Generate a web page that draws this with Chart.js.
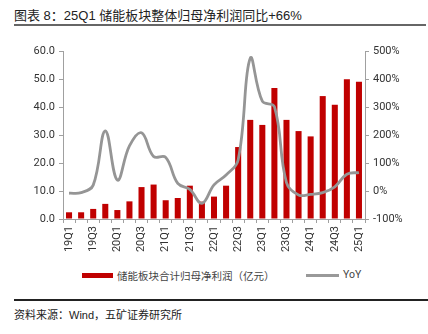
<!DOCTYPE html>
<html>
<head>
<meta charset="utf-8">
<script src="https://cdn.jsdelivr.net/npm/chart.js@4/dist/chart.umd.min.js"></script>
<style>
  body { margin: 0; background: #fff; }
  #wrap { position: relative; width: 428px; height: 334px; overflow: hidden;
          font-family: "Liberation Sans", "Noto Sans CJK SC", sans-serif; color: #222; }
  #titulo { position: absolute; left: 14px; top: 5px; font-size: 13px; white-space: nowrap; }
  #linhaTopo { position: absolute; left: 14px; top: 24px; width: 412px; height: 2px; background: #666; }
  #grafico { position: absolute; left: 0; top: 0; }
  .leg { position: absolute; top: 268px; font-size: 10.5px; color: #444; white-space: nowrap; }
  #legBarra { position: absolute; left: 82px; top: 273px; width: 31px; height: 5px; background: #c00000; }
  #legLinha { position: absolute; left: 306px; top: 274px; width: 33px; height: 3px; background: #999; }
  #linhaBase { position: absolute; left: 14px; top: 299px; width: 414px; height: 1.5px; background: #222; }
  #fonte { position: absolute; left: 14px; top: 306px; font-size: 11px; white-space: nowrap; }
</style>
</head>
<body>
<div id="wrap">
  <div id="titulo">图表 8：25Q1 储能板块整体归母净利润同比+66%</div>
  <div id="linhaTopo"></div>
  <canvas id="grafico" width="428" height="265"></canvas>
  <div id="legBarra"></div>
  <div class="leg" style="left:117px">储能板块合计归母净利润（亿元）</div>
  <div id="legLinha"></div>
  <div class="leg" style="left:343px; font-family: Roboto, sans-serif;">YoY</div>
  <div id="linhaBase"></div>
  <div id="fonte">资料来源：Wind，五矿证券研究所</div>
</div>
<script>
// Dados
const trimestres = ['19Q1','19Q2','19Q3','19Q4','20Q1','20Q2','20Q3','20Q4',
                    '21Q1','21Q2','21Q3','21Q4','22Q1','22Q2','22Q3','22Q4',
                    '23Q1','23Q2','23Q3','23Q4','24Q1','24Q2','24Q3','24Q4','25Q1'];
const lucroLiquido = [2.4, 2.4, 3.6, 5.4, 3.2, 6.3, 11.4, 12.3,
                      6.7, 7.5, 11.9, 6.2, 8.0, 11.9, 25.7, 35.4,
                      33.6, 46.8, 35.4, 31.4, 29.5, 43.9, 40.8, 49.9, 49.0];
const yoy = [-8, -6, 21, 215, 39, 161, 208, 123,
             120, 27, 6, -44, 22, 57, 111, 474,
             321, 301, 30, -14, -12, -6, 15, 60, 66];
const ticksEsquerda = [0, 10, 20, 30, 40, 50, 60];
const ticksDireita = [-100, 0, 100, 200, 300, 400, 500];

const corEixo = '#a0a0a0';
const fonteEixo = { family: 'Roboto, sans-serif', size: 11 };

new Chart(document.getElementById('grafico'), {
    data: {
        labels: trimestres,
        datasets: [{
            type: 'line',
            label: 'YoY',
            data: yoy,
            yAxisID: 'y2',
            borderColor: '#959595',
            borderWidth: 2.8,
            pointRadius: 0,
            tension: 0.4,
            order: 0
        }, {
            type: 'bar',
            label: '储能板块合计归母净利润（亿元）',
            data: lucroLiquido,
            yAxisID: 'y',
            backgroundColor: '#c00000',
            barPercentage: 0.5,
            categoryPercentage: 1,
            order: 1
        }]
    },
    options: {
        responsive: false,
        animation: false,
        layout: { padding: { top: 51, left: 0, right: 0, bottom: 0 } },
        plugins: { legend: { display: false }, tooltip: { enabled: false } },
        scales: {
            x: {
                offset: true,
                grid: { display: true, drawOnChartArea: false, offset: true, tickLength: 4, color: corEixo },
                border: { color: corEixo },
                ticks: {
                    autoSkip: false, maxRotation: 90, minRotation: 90, padding: 3,
                    color: '#333', font: fonteEixo,
                    callback: function (v, i) { return i % 2 === 0 ? trimestres[i] : ''; }
                },
                afterFit: function (s) { s.height = 46; }
            },
            y: {
                position: 'left',
                min: 0, max: 60,
                afterBuildTicks: function (s) { s.ticks = ticksEsquerda.map(v => ({ value: v })); },
                grid: { display: true, drawOnChartArea: false, tickLength: 4, color: corEixo },
                border: { color: corEixo },
                ticks: { padding: 4, color: '#333', font: fonteEixo,
                         callback: v => v.toFixed(1) },
                afterFit: function (s) { s.width = 63; }
            },
            y2: {
                position: 'right',
                min: -100, max: 500,
                afterBuildTicks: function (s) { s.ticks = ticksDireita.map(v => ({ value: v })); },
                grid: { display: true, drawOnChartArea: false, tickLength: 4, color: corEixo },
                border: { color: corEixo },
                ticks: { padding: 4, color: '#333', font: fonteEixo,
                         callback: v => v + '%' },
                afterFit: function (s) { s.width = 63; }
            }
        }
    }
});
</script>
</body>
</html>
